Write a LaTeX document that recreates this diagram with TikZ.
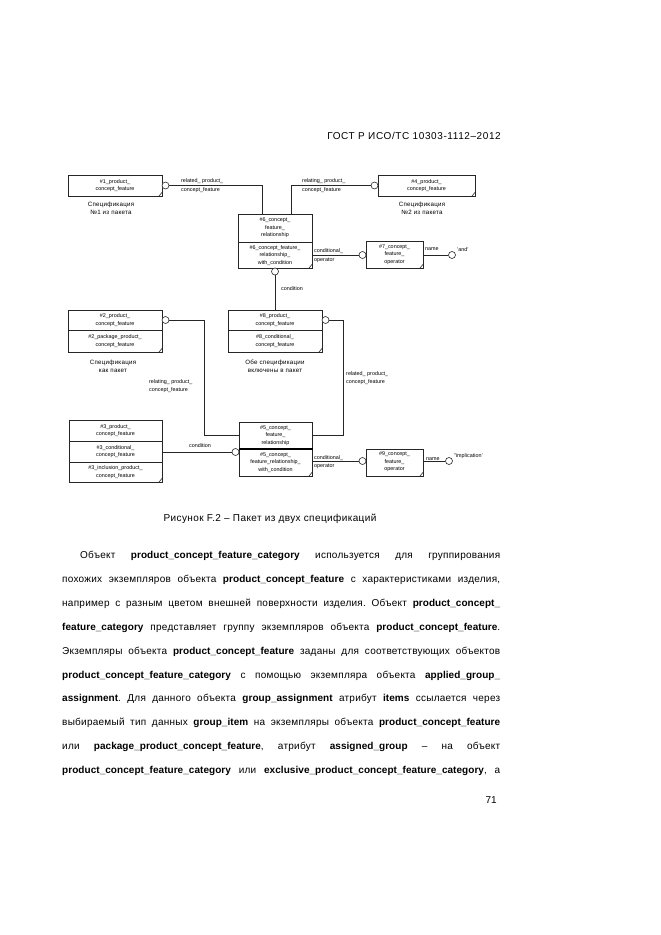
\documentclass[tikz,border=0pt]{standalone}
\usepackage{fontspec}
\setmainfont{Liberation Sans}
\newcommand\bw[1]{{\bfseries\addfontfeature{LetterSpace=0.5}#1}}
\begin{document}
\frenchspacing
\begin{tikzpicture}[x=1pt,y=-1pt,
  box/.style={draw=black!85, line width=0.6pt, inner sep=0pt, anchor=north west},
  circ/.style={draw=black!85, circle, fill=white, line width=0.6pt, minimum size=7pt, inner sep=0pt},
  conn/.style={draw=black!85, line width=0.6pt},
  tiny/.style={font=\fontsize{5.4}{7.4}\selectfont, align=center, inner sep=0pt},
  tinyl/.style={font=\fontsize{5.4}{8.6}\selectfont, align=left, inner sep=0pt},
  speclbl/.style={font=\fontsize{6.2}{8}\selectfont\addfontfeature{LetterSpace=4}, align=center, inner sep=0pt},
  body/.style={font=\fontsize{10}{12}\selectfont\addfontfeature{LetterSpace=2.5}, inner sep=0pt, anchor=base west},
]
\useasboundingbox[fill=white] (0,0) rectangle (661,935);

% header
\node[font=\fontsize{10}{12}\selectfont\addfontfeature{LetterSpace=6}, inner sep=0pt, anchor=base east] (hdr) at (501,139.5) {ГОСТ Р ИСО/ТС 10303-1112–2012};

% ---------- boxes ----------
\node[box, minimum width=94pt, minimum height=21pt] (b1) at (68,175) {};
\node[tiny] (t1) at (115,185.5) {\#1\_product\_\\concept\_feature};
\node[box, minimum width=97pt, minimum height=21pt] (b4) at (378,175) {};
\node[tiny] (t4) at (426.5,185.5) {\#4\_product\_\\concept\_feature};

\node[box, minimum width=74pt, minimum height=54pt] (b6) at (238,214) {};
\node[tiny] (t6a) at (275,228) {\#6\_concept\_\\feature\_\\relationship};
\node[tiny] (t6b) at (275,255.5) {\#6\_concept\_feature\_\\relationship\_\\with\_condition};
\draw[conn] (b6.west |- 0,242) -- (b6.east |- 0,242);

\node[box, minimum width=57pt, minimum height=27pt] (b7) at (366,241) {};
\node[tiny] (t7) at (394.5,254.5) {\#7\_concept\_\\feature\_\\operator};

\node[box, minimum width=94pt, minimum height=42pt] (b2) at (68,310) {};
\node[tiny] (t2a) at (115,320) {\#2\_product\_\\concept\_feature};
\node[tiny] (t2b) at (115,341) {\#2\_package\_product\_\\concept\_feature};
\draw[conn] (b2.west |- 0,330.5) -- (b2.east |- 0,330.5);

\node[box, minimum width=94pt, minimum height=42pt] (b8) at (228,310) {};
\node[tiny] (t8a) at (275,320) {\#8\_product\_\\concept\_feature};
\node[tiny] (t8b) at (275,341) {\#8\_conditional\_\\concept\_feature};
\draw[conn] (b8.west |- 0,330.5) -- (b8.east |- 0,330.5);

\node[box, minimum width=93pt, minimum height=62pt] (b3) at (69,420) {};
\node[tiny] (t3a) at (115.5,430.5) {\#3\_product\_\\concept\_feature};
\node[tiny] (t3b) at (115.5,451.5) {\#3\_conditional\_\\concept\_feature};
\node[tiny] (t3c) at (115.5,472) {\#3\_inclusion\_product\_\\concept\_feature};
\draw[conn] (b3.west |- 0,441) -- (b3.east |- 0,441);
\draw[conn] (b3.west |- 0,462) -- (b3.east |- 0,462);

\node[box, minimum width=73pt, minimum height=54pt] (b5) at (239,422) {};
\node[tiny] (t5a) at (275.5,435.5) {\#5\_concept\_\\feature\_\\relationship};
\node[tiny] (t5b) at (275.5,462.5) {\#5\_concept\_\\feature\_relationship\_\\with\_condition};
\draw[draw=black, line width=1.2pt] (b5.west |- 0,449) -- (b5.east |- 0,449);

\node[box, minimum width=57pt, minimum height=27pt] (b9) at (366,449) {};
\node[tiny] (t9) at (394.5,462) {\#9\_concept\_\\feature\_\\operator};

% corner marks
\foreach \b in {b1,b4,b6,b7,b2,b8,b3,b5,b9}
  \draw[conn] ([xshift=-4pt]\b.south east) -- ([yshift=5pt]\b.south east);

% ---------- connectors ----------
\coordinate (k1) at (262,185.5);
\coordinate (k4) at (291,185.5);
\node[circ] (c1) at (165.5,185.5) {};
\node[circ] (c4) at (374.5,185.5) {};
\draw[conn] (c1.east) -- (k1) -- (k1 |- b6.north);
\draw[conn] (c4.west) -- (k4) -- (k4 |- b6.north);
\node[tinyl, anchor=base west] (l1a) at (181,182.5) {related\_ product\_};
\node[tinyl, anchor=base west] (l1b) at (181,191) {concept\_feature};
\node[tinyl, anchor=base west] (l4a) at (302,182.5) {relating\_ product\_};
\node[tinyl, anchor=base west] (l4b) at (302,191) {concept\_feature};

\node[speclbl] (s1) at (111,208.5) {Спецификация\\№1 из пакета};
\node[speclbl] (s4) at (422,208.5) {Спецификация\\№2 из пакета};

% #6 -> #7
\node[circ] (c7) at (362.5,255) {};
\draw[conn] (b6.east |- c7) -- (c7.west);
\node[tinyl, anchor=base west] (l67a) at (314,252.5) {conditional\_};
\node[tinyl, anchor=base west] (l67b) at (314,261) {operator};
\node[circ] (c7n) at (452,255) {};
\draw[conn] (b7.east |- c7n) -- (c7n.west);
\node[tinyl, anchor=base west] (n7) at (425,250) {name};
\node[tinyl, anchor=base west] (v7) at (457,251) {'and'};

% #6 -> #8 condition
\node[circ] (c6) at (275,271.5) {};
\draw[conn] (c6.south) -- (b8.north -| c6);
\node[tinyl, anchor=base west] (lc6) at (281,290.5) {condition};

% #8 -> #5
\node[circ] (c8) at (325.5,320) {};
\coordinate (k8) at (343,320);
\coordinate (k8b) at (343,435);
\draw[conn] (c8.east) -- (k8) -- (k8b) -- (b5.east |- k8b);
\node[tinyl, anchor=base west] (l8a) at (346,375) {related\_ product\_};
\node[tinyl, anchor=base west] (l8b) at (346,383.5) {concept\_feature};
\node[speclbl] (s8) at (275,366) {Обе спецификации\\включены в пакет};

% #2 -> #5
\node[circ] (c2) at (165.5,320) {};
\coordinate (k2) at (204,320);
\coordinate (k2b) at (204,435);
\draw[conn] (c2.east) -- (k2) -- (k2b) -- (b5.west |- k2b);
\node[tinyl, anchor=base west] (l2a) at (149,383) {relating\_ product\_};
\node[tinyl, anchor=base west] (l2b) at (149,391.5) {concept\_feature};
\node[speclbl] (s2) at (113,366) {Спецификация\\как пакет};

% #3 -> #5 condition
\node[circ] (c5) at (235.5,452) {};
\draw[conn] (b3.east |- c5) -- (c5.west);
\node[tinyl, anchor=base] (lc3) at (200,447.5) {condition};

% #5 -> #9
\node[circ] (c9) at (362.5,461) {};
\draw[conn] (b5.east |- c9) -- (c9.west);
\node[tinyl, anchor=base west] (l59a) at (314,459) {conditional\_};
\node[tinyl, anchor=base west] (l59b) at (314,467.5) {operator};
\node[circ] (c9n) at (449,461) {};
\draw[conn] (b9.east |- c9n) -- (c9n.west);
\node[tinyl, anchor=base west] (n9) at (426,460) {name};
\node[tinyl, anchor=base west] (v9) at (454,457) {"implication'};

% caption
\node[font=\fontsize{10}{12}\selectfont\addfontfeature{LetterSpace=4}, inner sep=0pt, anchor=base] (capt) at (270,521.5) {Рисунок F.2 – Пакет из двух спецификаций};

% body text
\node[body] (p1) at (80,558.5) {\makebox[420pt][s]{Объект \bw{product\_concept\_feature\_category} используется для группирования}};
\node[body] (p2) at (62,582.4) {\makebox[438pt][s]{похожих экземпляров объекта \bw{product\_concept\_feature} с характеристиками изделия,}};
\node[body] (p3) at (62,606.3) {\makebox[438pt][s]{например с разным цветом внешней поверхности изделия. Объект \bw{product\_concept\_}}};
\node[body] (p4) at (62,630.2) {\makebox[438pt][s]{\bw{feature\_category} представляет группу экземпляров объекта \bw{product\_concept\_feature}.}};
\node[body] (p5) at (62,654.1) {\makebox[438pt][s]{Экземпляры объекта \bw{product\_concept\_feature} заданы для соответствующих объектов}};
\node[body] (p6) at (62,678) {\makebox[438pt][s]{\bw{product\_concept\_feature\_category} с помощью экземпляра объекта \bw{applied\_group\_}}};
\node[body] (p7) at (62,701.9) {\makebox[438pt][s]{\bw{assignment}. Для данного объекта \bw{group\_assignment} атрибут \bw{items} ссылается через}};
\node[body] (p8) at (62,725.8) {\makebox[438pt][s]{выбираемый тип данных \bw{group\_item} на экземпляры объекта \bw{product\_concept\_feature}}};
\node[body] (p9) at (62,749.7) {\makebox[438pt][s]{или \bw{package\_product\_concept\_feature}, атрибут \bw{assigned\_group} – на объект}};
\node[body] (p10) at (62,773.6) {\makebox[438pt][s]{\bw{product\_concept\_feature\_category} или \bw{exclusive\_product\_concept\_feature\_category}, а}};

% page number
\node[font=\fontsize{10}{12}\selectfont, inner sep=0pt, anchor=base east] (pg) at (497,803.5) {71};
\end{tikzpicture}
\end{document}
